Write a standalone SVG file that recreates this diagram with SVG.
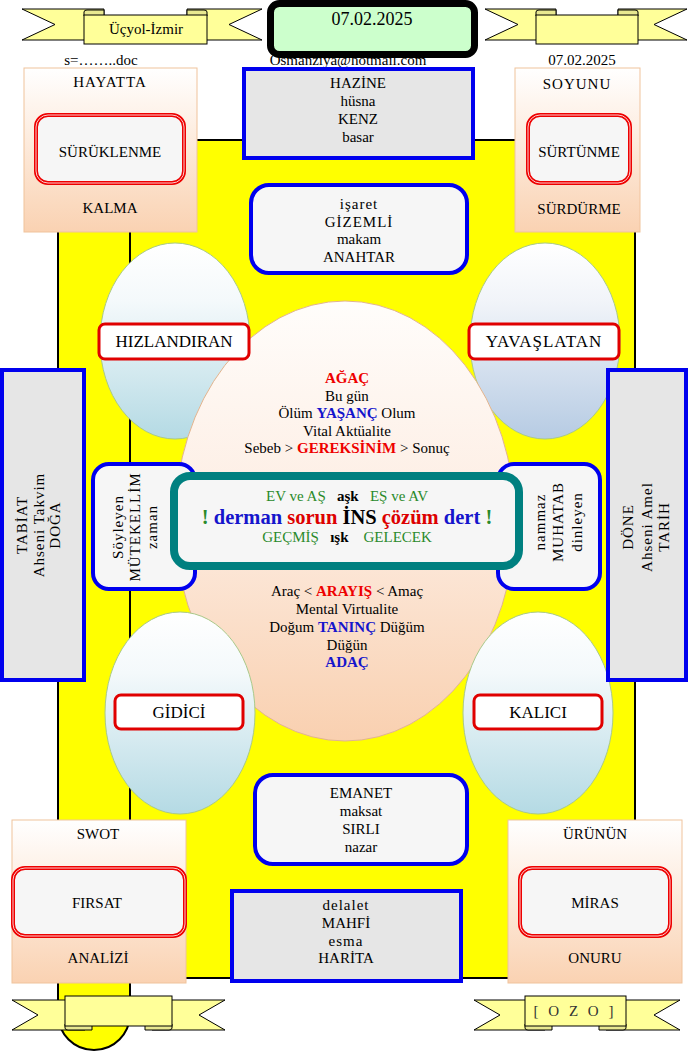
<svg xmlns="http://www.w3.org/2000/svg" width="689" height="1052" viewBox="0 0 689 1052">
<style>
text{font-family:"Liberation Serif","Times New Roman",serif;font-size:15px;text-anchor:middle;fill:#000}
.sp{letter-spacing:1px}
.lbl{font-size:17px}
.b{font-weight:bold}
.red{fill:#ee0000}
.blu{fill:#1515cc}
.grn{fill:#2a8a2a}
.peach{fill:url(#gPeach);stroke:#f0c39c;stroke-width:1}
.redbox{fill:#f6f6f6;stroke:#ee0000;stroke-width:4}
.redin{fill:none;stroke:#ffffff;stroke-width:0.8}
.bluebox{stroke:#0000ee;stroke-width:4}
.gray{fill:#e6e6e6}
.light{fill:#f6f6f6}
.oval{stroke:#a9c98a;stroke-width:1}
.tag{fill:#ffffff;stroke:#e00000;stroke-width:3}
.rib{fill:#ffff99;stroke:#000;stroke-width:1}
.tab{fill:#e8e890;stroke:#000;stroke-width:1}
</style>
<defs>
<linearGradient id="gPeach" x1="0" y1="0" x2="0" y2="1"><stop offset="0" stop-color="#ffffff"/><stop offset="1" stop-color="#fad2b2"/></linearGradient>
<linearGradient id="gBlue" x1="0" y1="0" x2="0" y2="1"><stop offset="0" stop-color="#ffffff"/><stop offset="0.3" stop-color="#f4f9fb"/><stop offset="1" stop-color="#b4dae4"/></linearGradient>
<linearGradient id="gSteel" x1="0" y1="0" x2="0" y2="1"><stop offset="0" stop-color="#ffffff"/><stop offset="0.3" stop-color="#f1f4f9"/><stop offset="1" stop-color="#b6cbe3"/></linearGradient>
<linearGradient id="gEgg" x1="0" y1="0" x2="0" y2="1"><stop offset="0" stop-color="#fffdfb"/><stop offset="0.45" stop-color="#fdeee4"/><stop offset="1" stop-color="#f9d0b0"/></linearGradient>
</defs>

<g id="scroll">
<path d="M58,140 H635 V978 H130 V1014 A36,36 0 0 1 58,1014 Z" fill="#ffff00" stroke="#000" stroke-width="2"/>
<line x1="130" y1="140" x2="130" y2="978" stroke="#000" stroke-width="2"/>
</g>

<g id="connectors"></g>

<g id="ribbon-top-left">
<path class="rib" d="M22,9 H104 V40 H22 L55,24.5 Z"/>
<path class="rib" d="M262,9 H187 V40 H262 L229,24.5 Z"/>
<path class="tab" d="M84,16 V12 Q84,10 87,10 H104 V16 Z"/>
<path class="tab" d="M207,16 V12 Q207,10 204,10 H187 V16 Z"/>
<rect class="rib" x="84" y="15" width="123" height="29"/>
<text x="146" y="34">Üçyol-İzmir</text>
</g>

<g id="ribbon-top-right">
<path class="rib" d="M485,9 H556 V40 H485 L518,24.5 Z"/>
<path class="rib" d="M687,9 H618 V40 H687 L654,24.5 Z"/>
<path class="tab" d="M536,16 V12 Q536,10 539,10 H556 V16 Z"/>
<path class="tab" d="M638,16 V12 Q638,10 635,10 H618 V16 Z"/>
<rect class="rib" x="536" y="15" width="102" height="29"/>
</g>

<g id="date-box">
<rect x="270.5" y="3.5" width="204" height="51" rx="9" fill="#ccffcc" stroke="#000" stroke-width="7"/>
<text x="372" y="25" style="font-size:18px">07.02.2025</text>
</g>

<g id="header-texts">
<text x="101" y="65">s=……..doc</text>
<text x="348" y="65">Osmanziya@hotmail.com</text>
<text x="582" y="65">07.02.2025</text>
</g>

<g id="hazine">
<rect class="bluebox gray" x="244" y="69" width="229" height="89"/>
<text x="358" y="88">HAZİNE</text>
<text x="358" y="106">hüsna</text>
<text x="358" y="124">KENZ</text>
<text x="358" y="142">basar</text>
</g>

<g id="isaret">
<rect class="bluebox light" x="251" y="185" width="216" height="88" rx="18"/>
<text x="359" y="209" class="sp">işaret</text>
<text x="359" y="227" class="sp">GİZEMLİ</text>
<text x="359" y="244">makam</text>
<text x="359" y="262">ANAHTAR</text>
</g>

<g id="oval-top-left">
<ellipse class="oval" cx="175" cy="341" rx="75" ry="98" fill="url(#gBlue)"/>
</g>
<g id="oval-top-right">
<ellipse class="oval" cx="545" cy="341" rx="75" ry="98" fill="url(#gSteel)"/>
</g>

<g id="center-ellipse">
<ellipse cx="345" cy="521" rx="170" ry="220" fill="url(#gEgg)" stroke="#e2b48e" stroke-width="1"/>
<text x="347" y="383" class="b red">AĞAÇ</text>
<text x="347" y="401">Bu gün</text>
<text x="347" y="418">Ölüm <tspan class="b blu">YAŞANÇ</tspan> Olum</text>
<text x="347" y="436">Vital Aktüalite</text>
<text x="347" y="453">Sebeb &gt; <tspan class="b red">GEREKSİNİM</tspan> &gt; Sonuç</text>
<text x="347" y="596">Araç &lt; <tspan class="b red">ARAYIŞ</tspan> &lt; Amaç</text>
<text x="347" y="614">Mental Virtualite</text>
<text x="347" y="632">Doğum <tspan class="b blu">TANINÇ</tspan> Düğüm</text>
<text x="347" y="650">Düğün</text>
<text x="347" y="667" class="b blu">ADAÇ</text>
</g>

<g id="label-hizlandiran">
<rect class="tag" x="99" y="324" width="150" height="35" rx="6"/>
<text x="174" y="347" class="lbl">HIZLANDIRAN</text>
</g>
<g id="label-yavaslatan">
<rect class="tag" x="469" y="324" width="150" height="35" rx="6"/>
<text x="544" y="347" class="lbl sp">YAVAŞLATAN</text>
</g>

<g id="oval-bottom-left">
<ellipse class="oval" cx="180" cy="713" rx="75" ry="101" fill="url(#gBlue)"/>
<rect class="tag" x="115" y="695" width="128" height="34" rx="6"/>
<text x="179" y="718" class="lbl">GİDİCİ</text>
</g>
<g id="oval-bottom-right">
<ellipse class="oval" cx="538" cy="713" rx="75" ry="101" fill="url(#gBlue)"/>
<rect class="tag" x="474" y="695" width="128" height="34" rx="6"/>
<text x="538" y="718" class="lbl">KALICI</text>
</g>

<g id="soyleyen">
<rect class="bluebox light" x="93" y="464" width="102" height="125" rx="16"/>
<text transform="translate(135,527) rotate(-90)" class="sp"><tspan x="0" y="-12">Söyleyen</tspan><tspan x="0" y="5">MÜTEKELLİM</tspan><tspan x="0" y="22">zaman</tspan></text>
</g>

<g id="nammaz">
<rect class="bluebox light" x="498" y="464" width="102" height="125" rx="16"/>
<text transform="translate(558,522) rotate(-90)" class="sp"><tspan x="0" y="-13">nammaz</tspan><tspan x="0" y="5">MUHATAB</tspan><tspan x="0" y="24">dinleyen</tspan></text>
</g>

<g id="center-box">
<rect x="174" y="476" width="345" height="90" rx="16" fill="#f6f6f6" stroke="#008080" stroke-width="8"/>
<text x="347" y="501" xml:space="preserve"><tspan class="grn">EV ve AŞ</tspan>   <tspan class="b">aşk</tspan>   <tspan class="grn">EŞ ve AV</tspan></text>
<text x="347" y="524" class="b" style="font-size:20.5px"><tspan class="grn">!</tspan> <tspan class="blu">derman</tspan> <tspan fill="#dd0000">sorun</tspan> İNS <tspan fill="#dd0000">çözüm</tspan> <tspan class="blu">dert</tspan> <tspan class="grn">!</tspan></text>
<text x="347" y="542" xml:space="preserve"><tspan class="grn">GEÇMİŞ</tspan>   <tspan class="b">ışk</tspan>    <tspan class="grn">GELECEK</tspan></text>
</g>

<g id="tabiat">
<rect class="bluebox gray" x="2" y="370" width="82" height="310"/>
<text transform="translate(43,525) rotate(-90)" class="sp"><tspan x="0" y="-16">TABİAT</tspan><tspan x="0" y="1">Ahseni Takvim</tspan><tspan x="0" y="17">DOĞA</tspan></text>
</g>

<g id="done">
<rect class="bluebox gray" x="608" y="370" width="78" height="310"/>
<text transform="translate(647,527) rotate(-90)" class="sp"><tspan x="0" y="-14">DÖNE</tspan><tspan x="0" y="5">Ahseni Amel</tspan><tspan x="0" y="22">TARİH</tspan></text>
</g>

<g id="hayatta">
<rect class="peach" x="24" y="68" width="173" height="164"/>
<text x="110" y="87" class="sp">HAYATTA</text>
<rect class="redbox" x="36" y="115" width="148" height="68" rx="12"/>
<rect class="redin" x="36" y="115" width="148" height="68" rx="12"/>
<text x="110" y="157">SÜRÜKLENME</text>
<text x="110" y="213">KALMA</text>
</g>

<g id="soyunu">
<rect class="peach" x="515" y="68" width="125" height="164"/>
<text x="577" y="89" class="sp">SOYUNU</text>
<rect class="redbox" x="528" y="115" width="102" height="68" rx="12"/>
<rect class="redin" x="528" y="115" width="102" height="68" rx="12"/>
<text x="579" y="157">SÜRTÜNME</text>
<text x="579" y="214">SÜRDÜRME</text>
</g>

<g id="emanet">
<rect class="bluebox light" x="255" y="775" width="212" height="89" rx="18"/>
<text x="361" y="798">EMANET</text>
<text x="361" y="816">maksat</text>
<text x="361" y="834">SIRLI</text>
<text x="361" y="852">nazar</text>
</g>

<g id="swot">
<rect class="peach" x="12" y="820" width="174" height="163"/>
<text x="98" y="839">SWOT</text>
<rect class="redbox" x="13" y="868" width="172" height="68" rx="12"/>
<rect class="redin" x="13" y="868" width="172" height="68" rx="12"/>
<text x="97" y="908">FIRSAT</text>
<text x="98" y="963">ANALİZİ</text>
</g>

<g id="urunun">
<rect class="peach" x="508" y="820" width="174" height="163"/>
<text x="595" y="839">ÜRÜNÜN</text>
<rect class="redbox" x="520" y="868" width="150" height="68" rx="12"/>
<rect class="redin" x="520" y="868" width="150" height="68" rx="12"/>
<text x="595" y="908">MİRAS</text>
<text x="595" y="963">ONURU</text>
</g>

<g id="delalet">
<rect class="bluebox gray" x="232" y="891" width="229" height="90"/>
<text x="346" y="910" class="sp">delalet</text>
<text x="346" y="928">MAHFİ</text>
<text x="346" y="946" class="sp">esma</text>
<text x="346" y="963">HARİTA</text>
</g>

<g id="ribbon-bottom-left">
<path class="rib" d="M12,1000 H85 V1030 H12 L38,1015 Z"/>
<path class="rib" d="M225,1000 H152 V1030 H225 L199,1015 Z"/>
<path class="tab" d="M65,1024 V1028 Q65,1030 68,1030 H92 V1024 Z"/>
<path class="tab" d="M172,1024 V1028 Q172,1030 169,1030 H145 V1024 Z"/>
<rect class="rib" x="65" y="996" width="107" height="30"/>
</g>

<g id="ribbon-bottom-right">
<path class="rib" d="M474,1000 H545 V1030 H474 L500,1015 Z"/>
<path class="rib" d="M680,1000 H606 V1030 H680 L654,1015 Z"/>
<path class="tab" d="M525,1024 V1028 Q525,1030 528,1030 H552 V1024 Z"/>
<path class="tab" d="M626,1024 V1028 Q626,1030 623,1030 H599 V1024 Z"/>
<rect class="rib" x="525" y="996" width="101" height="30"/>
<text x="575" y="1016" style="letter-spacing:3px;fill:#333">[ O Z O ]</text>
</g>
</svg>
